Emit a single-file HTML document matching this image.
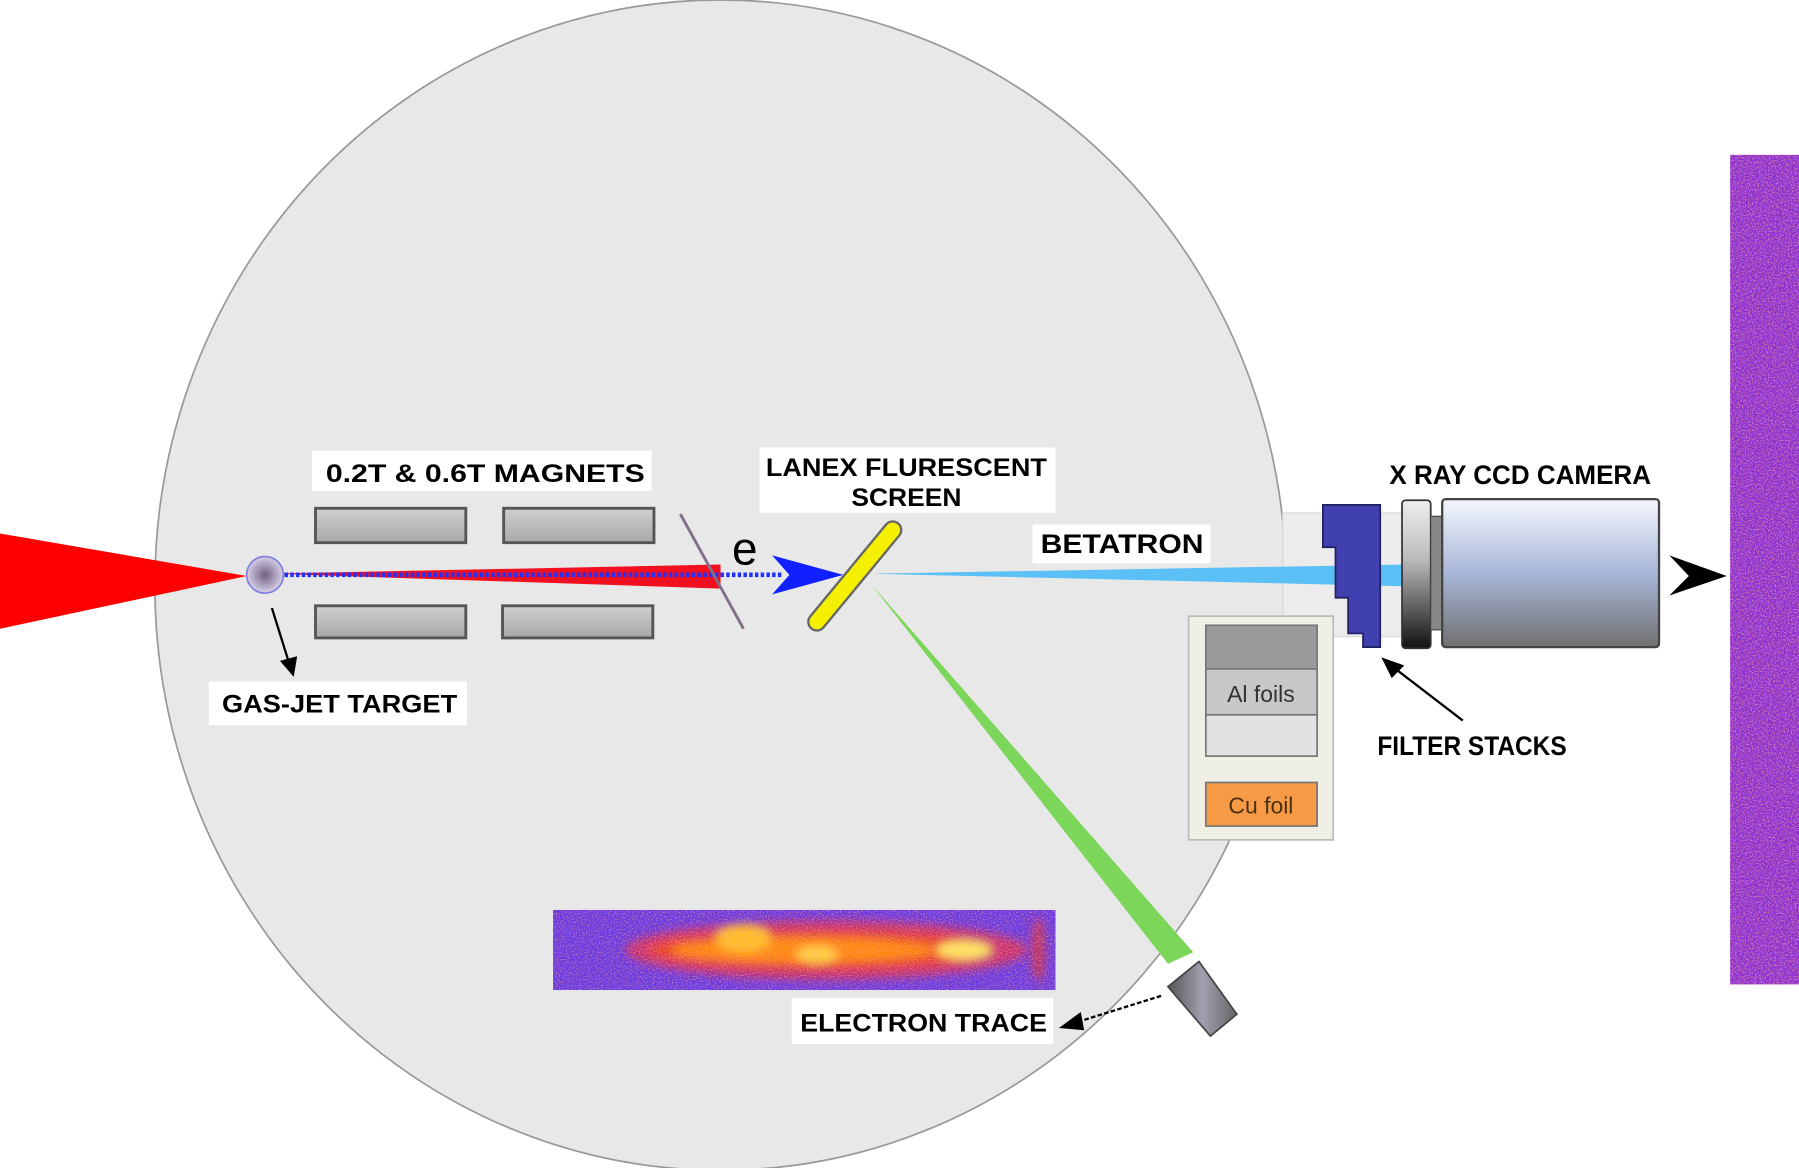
<!DOCTYPE html>
<html><head><meta charset="utf-8"><style>html,body{margin:0;padding:0;background:#fff}svg{display:block}</style></head>
<body>
<svg width="1799" height="1168" viewBox="0 0 1568 1018" xmlns="http://www.w3.org/2000/svg" font-family="Liberation Sans, sans-serif">
<defs>
<linearGradient id="mag" x1="0" y1="0" x2="0" y2="1"><stop offset="0" stop-color="#d0d0d0"/><stop offset="1" stop-color="#a8a8a8"/></linearGradient>
<radialGradient id="tgt"><stop offset="0" stop-color="#706080"/><stop offset="1" stop-color="#d8d0e8"/></radialGradient>
<linearGradient id="cam" x1="0" y1="0" x2="0" y2="1"><stop offset="0" stop-color="#f4f6fc"/><stop offset="0.5" stop-color="#a8b6d8"/><stop offset="1" stop-color="#707070"/></linearGradient>
<linearGradient id="ring" x1="0" y1="0" x2="0" y2="1"><stop offset="0" stop-color="#eee"/><stop offset="0.4" stop-color="#bbb"/><stop offset="1" stop-color="#111"/></linearGradient>
<linearGradient id="det" x1="0" y1="0" x2="1" y2="0"><stop offset="0" stop-color="#555"/><stop offset="0.5" stop-color="#a0a0b0"/><stop offset="1" stop-color="#666"/></linearGradient>
<filter id="spk" x="0" y="0" width="1" height="1"><feTurbulence type="fractalNoise" baseFrequency="0.8" numOctaves="2" seed="5"/><feColorMatrix type="matrix" values="0 0 0 0 1  0 0 0 0 0.4  0 0 0 0 0.35  4 0 0 0 -1.9"/></filter>
<filter id="spk2" x="0" y="0" width="1" height="1"><feTurbulence type="fractalNoise" baseFrequency="0.7" numOctaves="2" seed="9"/><feColorMatrix type="matrix" values="0 0 0 0 0.3  0 0 0 0 0.2  0 0 0 0 1  4 0 0 0 -2.0"/></filter>
<filter id="blur"><feGaussianBlur stdDeviation="4"/></filter>
<clipPath id="trc"><rect x="482" y="793" width="438" height="70"/></clipPath>
</defs>
<ellipse cx="628" cy="510" rx="493" ry="510" fill="#e8e8e8" stroke="#999" stroke-width="1.5"/>
<rect x="1118" y="447" width="104" height="108" fill="#ececec" stroke="#d8d8d8"/>
<polygon points="0,465 215,502 0,548" fill="#ff0000"/>
<polygon points="235,500 628,492 628,513" fill="#f01020"/>
<line x1="248" y1="501" x2="682" y2="501" stroke="#2030ff" stroke-width="4" stroke-dasharray="3,2"/>
<polygon points="673,484 735,501 673,518 688,501" fill="#1020ff"/>
<circle cx="231" cy="501" r="16" fill="url(#tgt)" stroke="#8080e0" stroke-width="1.5"/>
<line x1="593" y1="448" x2="648" y2="548" stroke="#807088" stroke-width="2.5"/>
<text x="638" y="492" font-size="40">e</text>
<rect x="275" y="443" width="131" height="30" fill="url(#mag)" stroke="#555" stroke-width="2.5"/>
<rect x="439" y="443" width="131" height="30" fill="url(#mag)" stroke="#555" stroke-width="2.5"/>
<rect x="275" y="528" width="131" height="28" fill="url(#mag)" stroke="#555" stroke-width="2.5"/>
<rect x="438" y="528" width="131" height="28" fill="url(#mag)" stroke="#555" stroke-width="2.5"/>
<polygon points="760,500 1225,492 1225,511" fill="#5bc0f5"/>
<polygon points="760,510 1018,840 1040,830" fill="#7cd65a"/>
<line x1="778" y1="462" x2="712" y2="542" stroke="#666" stroke-width="17" stroke-linecap="round"/>
<line x1="778" y1="462" x2="712" y2="542" stroke="#f4f000" stroke-width="13" stroke-linecap="round"/>
<rect x="272" y="393" width="296" height="35" fill="#fff"/>
<text x="423" y="420" font-size="22" font-weight="bold" text-anchor="middle" textLength="278" lengthAdjust="spacingAndGlyphs">0.2T &amp; 0.6T MAGNETS</text>
<rect x="662" y="390" width="258" height="57" fill="#fff"/>
<text x="790" y="415" font-size="22" font-weight="bold" text-anchor="middle" textLength="245" lengthAdjust="spacingAndGlyphs">LANEX FLURESCENT</text>
<text x="790" y="441" font-size="22" font-weight="bold" text-anchor="middle" textLength="96" lengthAdjust="spacingAndGlyphs">SCREEN</text>
<rect x="900" y="457" width="155" height="34" fill="#fff"/>
<text x="978" y="482" font-size="23" font-weight="bold" text-anchor="middle" textLength="142" lengthAdjust="spacingAndGlyphs">BETATRON</text>
<rect x="182" y="594" width="225" height="38" fill="#fff"/>
<text x="296" y="621" font-size="22" font-weight="bold" text-anchor="middle" textLength="205" lengthAdjust="spacingAndGlyphs">GAS-JET TARGET</text>
<line x1="237" y1="530" x2="252" y2="578" stroke="#000" stroke-width="2"/>
<polygon points="244,576 256,590 259,572" fill="#000"/>
<g clip-path="url(#trc)">
<rect x="482" y="793" width="438" height="70" fill="#6a3ae0"/>
<g filter="url(#blur)">
<ellipse cx="720" cy="828" rx="175" ry="26" fill="#c83070"/>
<ellipse cx="715" cy="828" rx="150" ry="17" fill="#e84020"/>
<ellipse cx="700" cy="828" rx="115" ry="11" fill="#ff8810"/>
<ellipse cx="648" cy="818" rx="24" ry="12" fill="#ffc020"/>
<ellipse cx="712" cy="832" rx="18" ry="8" fill="#ffd040"/>
<ellipse cx="840" cy="828" rx="24" ry="8" fill="#ffe860"/>
<ellipse cx="905" cy="828" rx="6" ry="28" fill="#c03060"/>
</g>
<rect x="482" y="793" width="438" height="70" filter="url(#spk)" opacity="0.5"/>
</g>
<rect x="690" y="870" width="228" height="40" fill="#fff"/>
<text x="805" y="899" font-size="22" font-weight="bold" text-anchor="middle" textLength="215" lengthAdjust="spacingAndGlyphs">ELECTRON TRACE</text>
<line x1="1012" y1="868" x2="935" y2="892" stroke="#000" stroke-width="2" stroke-dasharray="4,2"/>
<polygon points="923,896 942,882 945,898" fill="#000"/>
<polygon points="1018,860 1045,838 1078,884 1055,903" fill="url(#det)" stroke="#444" stroke-width="1.5"/>
<rect x="1036" y="537" width="126" height="195" fill="#efefe6" stroke="#bbb" stroke-width="1.5"/>
<rect x="1051" y="545" width="97" height="38" fill="#9a9a9a" stroke="#777" stroke-width="1.5"/>
<rect x="1051" y="583" width="97" height="40" fill="#c8c8c8" stroke="#777" stroke-width="1.5"/>
<text x="1099" y="612" font-size="20" text-anchor="middle" fill="#333">Al foils</text>
<rect x="1051" y="623" width="97" height="36" fill="#e2e2e2" stroke="#777" stroke-width="1.5"/>
<rect x="1051" y="682" width="97" height="38" fill="#f79a48" stroke="#777" stroke-width="1.5"/>
<text x="1099" y="709" font-size="20" text-anchor="middle" fill="#4a3010">Cu foil</text>
<polygon points="1153,440 1203,440 1203,564 1188,564 1188,552 1175,552 1175,521 1164,521 1164,477 1153,477" fill="#4040b0" stroke="#202060" stroke-width="1.5"/>
<rect x="1222" y="436" width="25" height="129" rx="3" fill="url(#ring)" stroke="#333" stroke-width="1.5"/>
<rect x="1247" y="450" width="10" height="99" fill="#888" stroke="#444"/>
<rect x="1257" y="435" width="189" height="129" rx="3" fill="url(#cam)" stroke="#444" stroke-width="2"/>
<text x="1325" y="422" font-size="23" font-weight="bold" text-anchor="middle" textLength="228" lengthAdjust="spacingAndGlyphs">X RAY CCD CAMERA</text>
<polygon points="1455,484 1505,502 1455,519 1472,502" fill="#000"/>
<line x1="1275" y1="628" x2="1215" y2="582" stroke="#000" stroke-width="2"/>
<polygon points="1204,573 1224,580 1213,591" fill="#000"/>
<text x="1283" y="658" font-size="23" font-weight="bold" text-anchor="middle" textLength="165" lengthAdjust="spacingAndGlyphs">FILTER STACKS</text>
<rect x="1508" y="135" width="60" height="723" fill="#8c2ccc"/>
<rect x="1508" y="135" width="60" height="723" filter="url(#spk2)" opacity="0.5"/>
<rect x="1508" y="135" width="60" height="723" filter="url(#spk)" opacity="0.6"/>
</svg>
</body></html>
